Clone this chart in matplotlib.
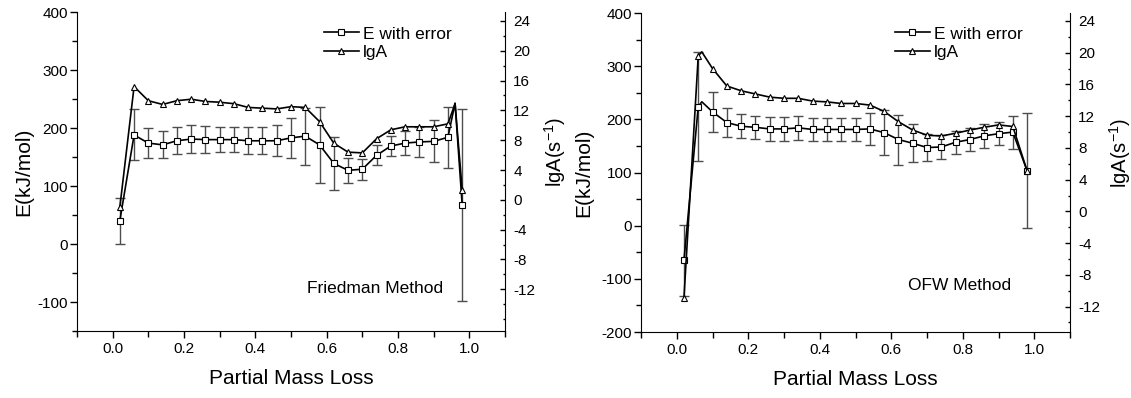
import numpy as np
import matplotlib
matplotlib.use('Agg')
import matplotlib.pyplot as plt
from matplotlib.lines import Line2D
from matplotlib.ticker import MultipleLocator

plt.rcParams['font.family'] = ['Liberation Sans', 'DejaVu Sans']
plt.rcParams['axes.unicode_minus'] = False
plt.rcParams['mathtext.fontset'] = 'custom'
plt.rcParams['mathtext.rm'] = 'Liberation Sans'
plt.rcParams['mathtext.default'] = 'regular'

# partial mass loss (conversion) points
x = [0.02, 0.06, 0.10, 0.14, 0.18, 0.22, 0.26, 0.30, 0.34, 0.38, 0.42, 0.46, 0.50,
     0.54, 0.58, 0.62, 0.66, 0.70, 0.74, 0.78, 0.82, 0.86, 0.90, 0.94, 0.98]

# Friedman method
fr_E = [40, 188, 174, 171, 178, 181, 180, 180, 180, 178, 178, 178, 183,
        186, 171, 139, 127, 129, 153, 169, 174, 176, 177, 184, 67]
fr_err = [40, 44, 26, 23, 23, 24, 23, 22, 22, 23, 23, 27, 34,
          49, 65, 46, 22, 18, 17, 17, 20, 26, 36, 53, 166]
fr_lgA = [-1.0, 15.2, 13.3, 12.8, 13.3, 13.5, 13.2, 13.1, 12.9, 12.4, 12.3, 12.2, 12.5,
          12.4, 10.5, 7.6, 6.4, 6.3, 8.2, 9.4, 9.8, 9.8, 9.8, 10.2, 1.3]
# overshoot of the connecting curve (no marker)
fr_peak = (0.96, 243, 12.9)

# OFW method
ofw_E = [-65, 224, 214, 194, 187, 185, 182, 182, 184, 181, 181, 181, 181,
         182, 175, 162, 155, 147, 148, 157, 162, 169, 173, 176, 103]
ofw_err = [67, 102, 38, 27, 23, 22, 22, 22, 22, 22, 22, 22, 22,
           30, 42, 47, 36, 26, 22, 22, 22, 22, 22, 31, 108]
ofw_lgA = [-10.9, 19.6, 18.0, 15.8, 15.2, 14.8, 14.4, 14.25, 14.25, 13.9, 13.8, 13.6, 13.6,
           13.4, 12.6, 11.3, 10.25, 9.6, 9.5, 9.85, 10.25, 10.6, 10.9, 10.7, 5.1]
ofw_peak = (0.07, 233, 20.1)


def with_peak(xs, ys, px, py):
    pts = sorted(list(zip(xs, ys)) + [(px, py)])
    return [p[0] for p in pts], [p[1] for p in pts]


def panel(rect, E, err, lgA, peak, ylim_E, yticks_E, ylim_A, method, text_pos, leg_pos, elabel_x):
    ax = fig.add_axes(rect)
    ax2 = ax.twinx()

    ax.errorbar(x, E, yerr=err, fmt='none', ecolor='#4d4d4d', elinewidth=1,
                capsize=3.5, capthick=1, zorder=1)
    lx, ly = with_peak(x, E, peak[0], peak[1])
    ax.plot(lx, ly, color='k', lw=1.2, zorder=2)
    ax.plot(x, E, ls='none', marker='s', ms=4.5, mfc='white', mec='k', mew=0.8, zorder=3)

    lx, ly = with_peak(x, lgA, peak[0], peak[2])
    ax2.plot(lx, ly, color='k', lw=1.2, zorder=2)
    ax2.plot(x, lgA, ls='none', marker='^', ms=5, mfc='white', mec='k', mew=0.8, zorder=3)

    ax.set_xlim(-0.1, 1.1)
    ax.set_ylim(*ylim_E)
    ax2.set_ylim(*ylim_A)
    ax.set_xticks([0.0, 0.2, 0.4, 0.6, 0.8, 1.0])
    ax.xaxis.set_minor_locator(MultipleLocator(0.1))
    ax.set_yticks(yticks_E)
    ax.yaxis.set_minor_locator(MultipleLocator(50))
    ax2.set_yticks(range(-12, 25, 4))
    ax2.yaxis.set_minor_locator(MultipleLocator(2))

    for s in ['top', 'right']:
        ax.spines[s].set_visible(False)
    for s in ['top', 'left', 'bottom']:
        ax2.spines[s].set_visible(False)

    ax.tick_params(axis='x', which='major', direction='out', length=5, width=1, pad=3, labelsize=11)
    ax.tick_params(axis='x', which='minor', direction='out', length=4, width=1)
    ax.tick_params(axis='y', which='major', direction='out', length=5, width=1, pad=1.5, labelsize=11)
    ax.tick_params(axis='y', which='minor', direction='out', length=3.5, width=1)
    ax2.tick_params(axis='y', which='major', direction='in', length=3.5, width=1, pad=6, labelsize=11)
    ax2.tick_params(axis='y', which='minor', direction='in', length=1.8, width=1)

    ax.set_xlabel('Partial Mass Loss', fontsize=15)
    ax.xaxis.set_label_coords(0.5, -0.12)
    ax.set_ylabel('E(kJ/mol)', fontsize=15)
    ax.yaxis.set_label_coords(elabel_x, 0.5)
    ax2.set_ylabel('lgA(s$^{-1}$)', fontsize=14.5)
    ax2.yaxis.set_label_coords(1.086, 0.56)

    ax.text(text_pos[0], text_pos[1], method + ' Method', fontsize=12.5, va='center', ha='left')

    handles = [Line2D([], [], color='k', lw=1.2, marker='s', ms=4, mfc='white', mec='k', mew=0.8),
               Line2D([], [], color='k', lw=1.2, marker='^', ms=4.5, mfc='white', mec='k', mew=0.8)]
    ax2.legend(handles, ['E with error', 'lgA'], loc='upper left', bbox_to_anchor=leg_pos,
               frameon=False, fontsize=12.5, handlelength=2.0, handletextpad=0.25,
               labelspacing=0.2, borderpad=0, borderaxespad=0)
    return ax, ax2


fig = plt.figure(figsize=(11.31, 3.98), dpi=100)

panel([0.0681, 0.1683, 0.3784, 0.8015], fr_E, fr_err, fr_lgA, fr_peak,
      (-150, 400), [-100, 0, 100, 200, 300, 400], (-17.6, 25.2),
      'Friedman', (0.544, -76), (0.577, 0.955), -0.103)

panel([0.5668, 0.1658, 0.3793, 0.8015], ofw_E, ofw_err, ofw_lgA, ofw_peak,
      (-200, 400), [-200, -100, 0, 100, 200, 300, 400], (-15.2, 25.0),
      'OFW', (0.647, -112), (0.592, 0.958), -0.112)

fig.savefig('out.png', dpi=100)
